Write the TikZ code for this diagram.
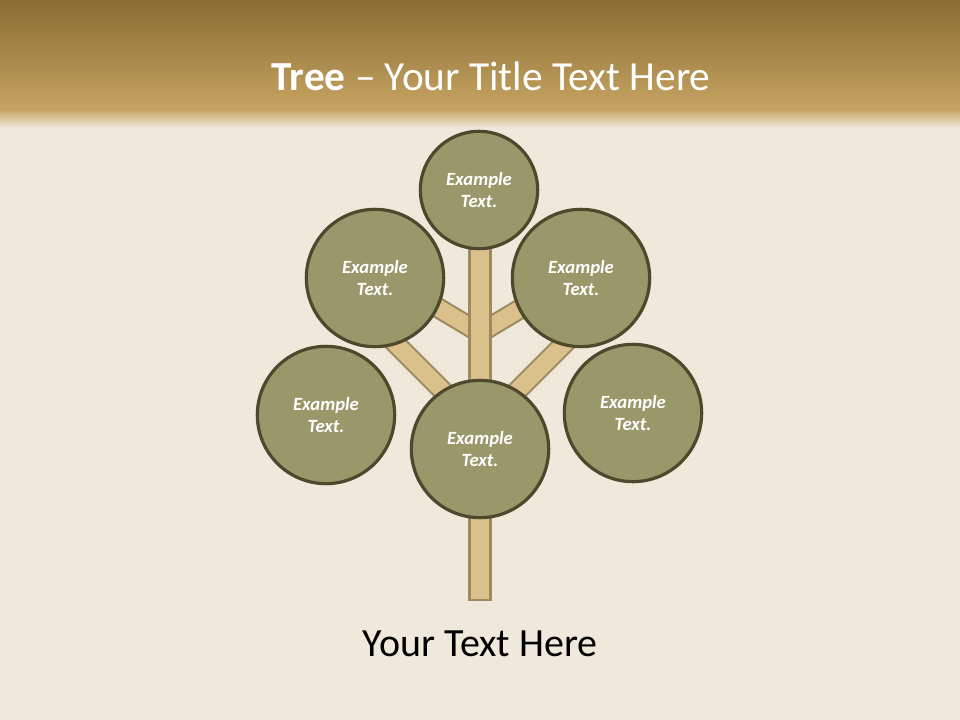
\documentclass[tikz,border=0pt]{standalone}
\usepackage{fontspec}
\setmainfont{Carlito}
\begin{document}
\begin{tikzpicture}[x=0.75pt,y=-0.75pt,
  leaf/.style={circle,draw=leafborder,line width=2.4pt,fill=leaffill,inner sep=0pt,
    minimum size=103pt,text=white,align=center,
    font=\fontsize{14}{17}\selectfont\bfseries\itshape},
  topleaf/.style={leaf,minimum size=88pt},
  branch/.style={draw=barkborder,line width=1.6pt,double=barkfill,double distance=12.5pt},
]
\definecolor{bg}{RGB}{239,233,220}
\definecolor{bandtop}{RGB}{137,109,52}
\definecolor{bandbot}{RGB}{198,164,98}
\definecolor{leaffill}{RGB}{153,152,106}
\definecolor{leafborder}{RGB}{78,73,45}
\definecolor{barkfill}{RGB}{218,193,140}
\definecolor{barkborder}{RGB}{158,137,97}
% background
\fill[bg] (0,0) rectangle (960,720);
\useasboundingbox (0,0) rectangle (960,720);
\shade[top color=bandtop,bottom color=bandbot] (0,0) rectangle (960,110);
\shade[top color=bandbot,bottom color=bg] (0,109.5) rectangle (960,128);
% title
\node[text=white,font=\fontsize{31}{36}\selectfont] (title) at (491,76)
  {\textbf{Tree} – Your Title Text Here};
% junctions
\coordinate (j1) at (480,428);
\coordinate (j2) at (480,333);
\coordinate (e1) at (380,328);
\coordinate (e2) at (580,328);
\coordinate (e3) at (420,297);
\coordinate (e4) at (540,297);
% branches
\draw[branch] (j1) -- (e1);
\draw[branch] (j1) -- (e2);
\draw[branch] (j2) -- (e3);
\draw[branch] (j2) -- (e4);
% trunk
\coordinate (tt) at (469.5,240);
\coordinate (tb) at (490.5,600);
\draw[fill=barkfill,draw=barkborder,line width=1.6pt] (tt) rectangle (tb);
% leaves
\node[topleaf] (top) at (479,190) {Example\\Text.};
\node[leaf] (ul) at (375,278) {Example\\Text.};
\node[leaf] (ur) at (581,278) {Example\\Text.};
\node[leaf] (ll) at (326,415) {Example\\Text.};
\node[leaf] (lr) at (633,413) {Example\\Text.};
\node[leaf] (mid) at (480,449) {Example\\Text.};
% bottom text
\node[text=black,font=\fontsize{30}{36}\selectfont] (caption) at (480,644) {Your Text Here};
\end{tikzpicture}
\end{document}
